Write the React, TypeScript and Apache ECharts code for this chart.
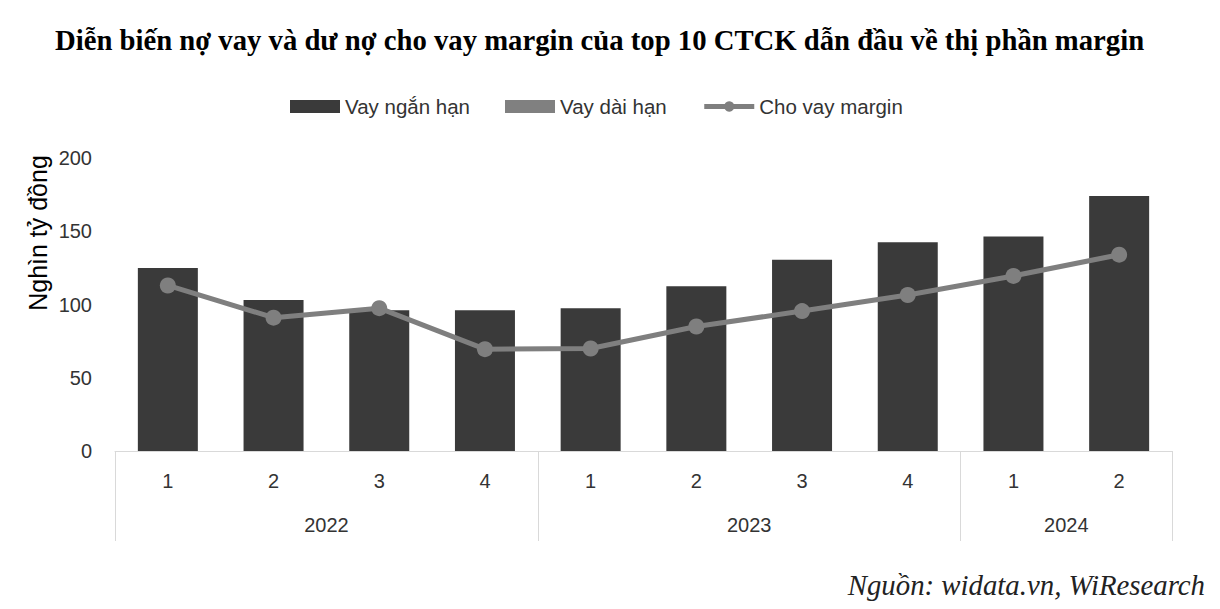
import React, { useEffect, useRef } from "react";
import * as echarts from "echarts";

const quarters = ["1", "2", "3", "4", "1", "2", "3", "4", "1", "2"];
const years = ["2022", "2023", "2024"];
const yearCenters = [2, 6, 9];
const yearBounds = [0, 4, 8, 10];
const shortTerm = [125, 103, 96, 96, 97.5, 112.5, 130.5, 142.5, 146.5, 174];
const longTerm = [0, 0, 0, 0, 0, 0, 0, 0, 0, 0];
const margin = [113, 91, 97.5, 69.5, 70, 85, 95.5, 106.5, 119.5, 134];
const yTicks = [0, 50, 100, 150, 200];

const SANS = "'Liberation Sans', Arial, sans-serif";
const SERIF = "'Liberation Serif', 'Times New Roman', serif";

export default function App() {
  const ref = useRef<HTMLDivElement>(null);
  useEffect(() => {
    document.body.style.margin = "0";
    if (!ref.current) return;
    const chart = echarts.init(ref.current, undefined, { renderer: "svg" });
    chart.setOption({
      animation: false,
      backgroundColor: "#ffffff",
      title: {
        text: "Diễn biến nợ vay và dư nợ cho vay margin của top 10 CTCK dẫn đầu về thị phần margin",
        left: 50,
        top: 20,
        textStyle: { fontFamily: SERIF, fontWeight: "bold", fontSize: 28.7, color: "#000" },
      },
      legend: {
        top: 91,
        left: 285,
        itemWidth: 50,
        itemHeight: 13,
        itemGap: 35,
        textStyle: { fontFamily: SANS, fontSize: 20.5, color: "#333" },
        data: [
          { name: "Vay ngắn hạn", icon: "rect" },
          { name: "Vay dài hạn", icon: "rect" },
          { name: "Cho vay margin", lineStyle: { width: 5, color: "#7f7f7f" } },
        ],
      },
      graphic: [
        {
          type: "text",
          right: 15,
          top: 570,
          style: {
            text: "Nguồn: widata.vn, WiResearch",
            font: `italic 28.8px ${SERIF}`,
            fill: "#222",
          },
        },
        {
          type: "text",
          x: 38,
          y: 233,
          rotation: Math.PI / 2,
          style: {
            text: "Nghìn tỷ đồng",
            font: `25px ${SANS}`,
            fill: "#000",
            align: "center",
            verticalAlign: "middle",
          },
        },
      ],
      grid: { left: 115, right: 48, top: 158, bottom: 158, containLabel: false },
      xAxis: [
        {
          type: "category",
          data: quarters,
          position: "bottom",
          axisLine: { show: true, lineStyle: { color: "#d9d9d9", width: 1 } },
          axisTick: { show: false },
          axisLabel: { fontFamily: SANS, fontSize: 20, color: "#333", margin: 20 },
        },
        {
          type: "value",
          min: 0,
          max: 10,
          position: "bottom",
          axisLine: { show: false },
          splitLine: { show: false },
          axisTick: {
            show: true,
            customValues: yearBounds,
            length: 90,
            lineStyle: { color: "#d9d9d9", width: 1 },
          },
          axisLabel: {
            show: true,
            customValues: yearCenters,
            margin: 64,
            fontFamily: SANS,
            fontSize: 20,
            color: "#333",
            formatter: (v: number) => years[yearCenters.indexOf(v)] ?? "",
          },
        },
      ],
      yAxis: {
        type: "value",
        min: 0,
        max: 200,
        interval: 50,
        axisLine: { show: false },
        axisTick: { show: false },
        splitLine: { show: false },
        axisLabel: {
          fontFamily: SANS,
          fontSize: 20,
          color: "#333",
          margin: 23,
          formatter: (v: number) => (yTicks.includes(v) ? String(v) : ""),
        },
      },
      series: [
        {
          name: "Vay ngắn hạn",
          type: "bar",
          stack: "debt",
          data: shortTerm,
          barWidth: 60,
          itemStyle: { color: "#3a3a3a" },
        },
        {
          name: "Vay dài hạn",
          type: "bar",
          stack: "debt",
          data: longTerm,
          barWidth: 60,
          itemStyle: { color: "#808080" },
        },
        {
          name: "Cho vay margin",
          type: "line",
          data: margin,
          symbol: "circle",
          symbolSize: 16,
          lineStyle: { color: "#7f7f7f", width: 5 },
          itemStyle: { color: "#7f7f7f" },
        },
      ],
    });
    return () => chart.dispose();
  }, []);
  return <div ref={ref} style={{ width: 1220, height: 609 }} />;
}
